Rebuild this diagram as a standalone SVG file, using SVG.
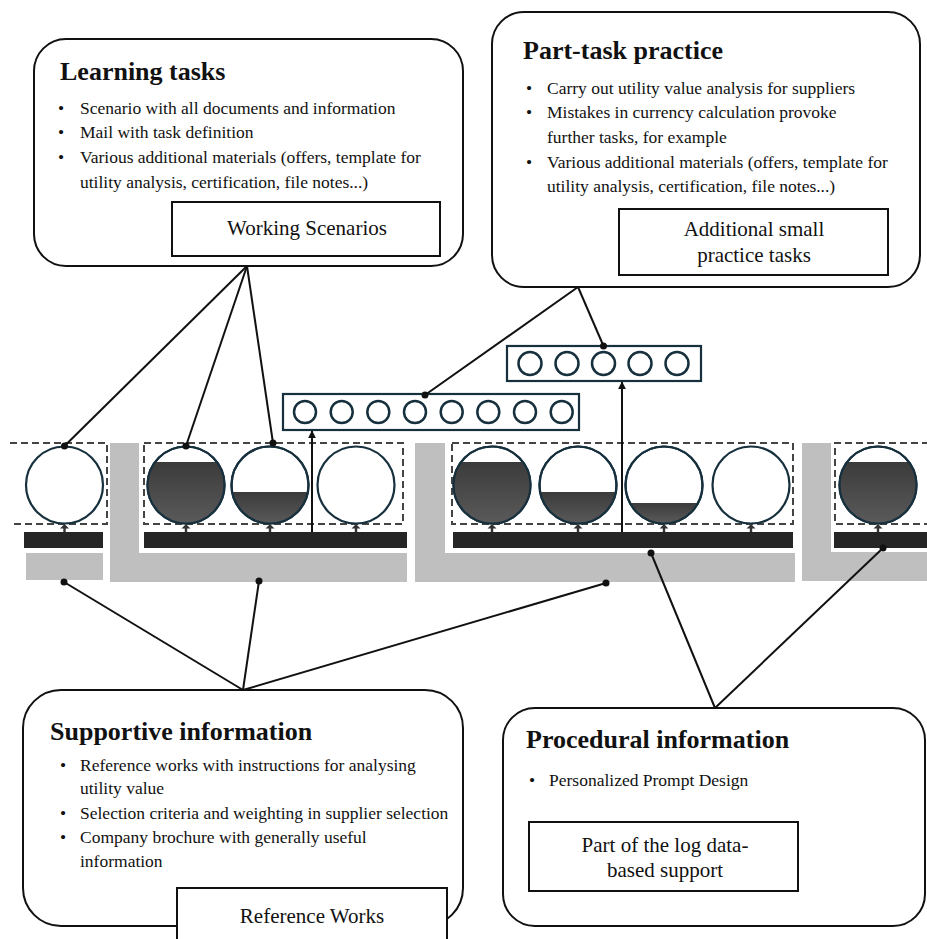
<svg xmlns="http://www.w3.org/2000/svg" width="927" height="939" viewBox="0 0 927 939">
  <style>
    text { font-family: "Liberation Serif", "Times New Roman", serif; fill: #111; }
    .title { font-size: 26px; font-weight: bold; }
    .item { font-size: 17.5px; }
    .label { font-size: 21px; text-anchor: middle; }
    .panel { fill: #fff; stroke: #111; stroke-width: 2; }
    .tag { fill: #fff; stroke: #111; stroke-width: 2; }
    .frame { fill: none; stroke: #444; stroke-width: 2; stroke-dasharray: 7 4; }
    .support { fill: #bfbfbf; }
    .bar { fill: #262626; }
    .ring { fill: #fff; stroke: #17303d; stroke-width: 2.2; }
    .level { fill: url(#shade); }
    .mini { fill: none; stroke: #17303d; stroke-width: 2.5; }
    .tray { fill: #fff; stroke: #17303d; stroke-width: 2.2; }
    .link { stroke: #111; stroke-width: 2; fill: none; }
    .end { fill: #111; }
    .lift { stroke: #111; stroke-width: 2; fill: none; marker-end: url(#tip); }
    .nub { fill: #333; }
  </style>
  <defs>
    <linearGradient id="shade" x1="0" y1="0" x2="0" y2="1">
      <stop offset="0" stop-color="#3b3b3b"/>
      <stop offset="1" stop-color="#5a5a5a"/>
    </linearGradient>
    <marker id="tip" viewBox="0 0 10 10" refX="9" refY="5" markerWidth="4" markerHeight="4" orient="auto" markerUnits="strokeWidth">
      <path d="M0,0 L10,5 L0,10 Z" fill="#111"/>
    </marker>
    <path id="nubShape" d="M0,0 L4.5,4.5 H1.2 V8 H-1.2 V4.5 H-4.5 Z"/>
  </defs>

  <!-- supporting information strips (grey) -->
  <g id="support-strips">
    <rect class="support" x="26" y="553" width="77" height="27"/>
    <path class="support" d="M110,443 H139 V553 H407 V582 H110 Z"/>
    <path class="support" d="M415,443 H445 V553 H795 V582 H415 Z"/>
    <path class="support" d="M802,443 H831 V552 H927 V581 H802 Z"/>
  </g>

  <!-- procedural information bars (dark) -->
  <g id="procedure-bars">
    <rect class="bar" x="24" y="532" width="79" height="16"/>
    <rect class="bar" x="144" y="532" width="263" height="16"/>
    <rect class="bar" x="453" y="532" width="340" height="16"/>
    <rect class="bar" x="834" y="532" width="93" height="16"/>
  </g>

  <!-- task classes (dashed frames) -->
  <g id="task-classes">
    <path class="frame" d="M10,443 H107 V524 H10"/>
    <rect class="frame" x="144" y="443" width="259" height="81"/>
    <rect class="frame" x="452" y="443" width="341" height="81"/>
    <path class="frame" d="M940,443 H835 V524 H940"/>
  </g>

  <!-- learning task circles with support level -->
  <g id="task-circles">
    <circle class="ring" cx="64.5" cy="485" r="38.5"/>

    <circle class="ring" cx="186" cy="485" r="38.5"/>
    <path class="level" d="M155.1,462 H216.9 A38.5,38.5 0 1 1 155.1,462 Z"/>
    <circle class="ring" cx="186" cy="485" r="38.5" style="fill:none"/>

    <circle class="ring" cx="270" cy="485" r="38.5"/>
    <path class="level" d="M232.1,492 H307.9 A38.5,38.5 0 0 1 232.1,492 Z"/>
    <circle class="ring" cx="270" cy="485" r="38.5" style="fill:none"/>

    <circle class="ring" cx="356" cy="485" r="38.5"/>

    <circle class="ring" cx="492" cy="485" r="38.5"/>
    <path class="level" d="M461.1,462 H522.9 A38.5,38.5 0 1 1 461.1,462 Z"/>
    <circle class="ring" cx="492" cy="485" r="38.5" style="fill:none"/>

    <circle class="ring" cx="578" cy="485" r="38.5"/>
    <path class="level" d="M540.1,492 H615.9 A38.5,38.5 0 0 1 540.1,492 Z"/>
    <circle class="ring" cx="578" cy="485" r="38.5" style="fill:none"/>

    <circle class="ring" cx="664" cy="485" r="38.5"/>
    <path class="level" d="M630,503 H698 A38.5,38.5 0 0 1 630,503 Z"/>
    <circle class="ring" cx="664" cy="485" r="38.5" style="fill:none"/>

    <circle class="ring" cx="751" cy="485" r="38.5"/>

    <circle class="ring" cx="878" cy="485" r="38.5"/>
    <path class="level" d="M847.1,462 H908.9 A38.5,38.5 0 1 1 847.1,462 Z"/>
    <circle class="ring" cx="878" cy="485" r="38.5" style="fill:none"/>
  </g>

  <!-- small pointers from bars to circles -->
  <g id="bar-pointers" class="nub">
    <use href="#nubShape" x="64.5" y="524"/>
    <use href="#nubShape" x="186" y="524"/>
    <use href="#nubShape" x="270" y="524"/>
    <use href="#nubShape" x="356" y="524"/>
    <use href="#nubShape" x="492" y="524"/>
    <use href="#nubShape" x="578" y="524"/>
    <use href="#nubShape" x="664" y="524"/>
    <use href="#nubShape" x="751" y="524"/>
    <use href="#nubShape" x="878" y="524"/>
  </g>

  <!-- part-task practice rows -->
  <g id="practice-row-8">
    <rect class="tray" x="283" y="394" width="296" height="36"/>
    <circle class="mini" cx="305" cy="412" r="11"/>
    <circle class="mini" cx="341.7" cy="412" r="11"/>
    <circle class="mini" cx="378.3" cy="412" r="11"/>
    <circle class="mini" cx="415" cy="412" r="11"/>
    <circle class="mini" cx="451.7" cy="412" r="11"/>
    <circle class="mini" cx="488.3" cy="412" r="11"/>
    <circle class="mini" cx="525" cy="412" r="11"/>
    <circle class="mini" cx="561.7" cy="412" r="11"/>
  </g>
  <g id="practice-row-5">
    <rect class="tray" x="507" y="346" width="194" height="35"/>
    <circle class="mini" cx="530" cy="363.5" r="11.5"/>
    <circle class="mini" cx="567" cy="363.5" r="11.5"/>
    <circle class="mini" cx="603.5" cy="363.5" r="11.5"/>
    <circle class="mini" cx="640" cy="363.5" r="11.5"/>
    <circle class="mini" cx="677" cy="363.5" r="11.5"/>
  </g>

  <!-- Learning tasks -->
  <g id="learning-tasks">
    <rect class="panel" x="34" y="39" width="429" height="227" rx="32"/>
    <text class="title" x="60" y="80">Learning tasks</text>
    <text class="item" x="58" y="114">•</text>
    <text class="item" x="80" y="114">Scenario with all documents and information</text>
    <text class="item" x="58" y="138">•</text>
    <text class="item" x="80" y="138">Mail with task definition</text>
    <text class="item" x="58" y="163">•</text>
    <text class="item" x="80" y="163">Various additional materials (offers, template for</text>
    <text class="item" x="80" y="188">utility analysis, certification, file notes...)</text>
    <rect class="tag" x="172" y="202" width="268" height="54"/>
    <text class="label" x="307" y="235">Working Scenarios</text>
  </g>

  <!-- Part-task practice -->
  <g id="part-task-practice">
    <rect class="panel" x="492" y="12" width="428" height="275" rx="32"/>
    <text class="title" x="523" y="59">Part-task practice</text>
    <text class="item" x="526" y="94">•</text>
    <text class="item" x="547" y="94">Carry out utility value analysis for suppliers</text>
    <text class="item" x="526" y="118">•</text>
    <text class="item" x="547" y="118">Mistakes in currency calculation provoke</text>
    <text class="item" x="547" y="143">further tasks, for example</text>
    <text class="item" x="526" y="168">•</text>
    <text class="item" x="547" y="168">Various additional materials (offers, template for</text>
    <text class="item" x="547" y="192">utility analysis, certification, file notes...)</text>
    <rect class="tag" x="619" y="209" width="269" height="66"/>
    <text class="label" x="754" y="236">Additional small</text>
    <text class="label" x="754" y="262">practice tasks</text>
  </g>

  <!-- Supportive information -->
  <g id="supportive-information">
    <rect class="panel" x="23" y="690" width="440" height="236" rx="38"/>
    <text class="title" x="50" y="740">Supportive information</text>
    <text class="item" x="60" y="771">•</text>
    <text class="item" x="80" y="771">Reference works with instructions for analysing</text>
    <text class="item" x="80" y="794">utility value</text>
    <text class="item" x="60" y="819">•</text>
    <text class="item" x="80" y="819">Selection criteria and weighting in supplier selection</text>
    <text class="item" x="60" y="843">•</text>
    <text class="item" x="80" y="843">Company brochure with generally useful</text>
    <text class="item" x="80" y="867">information</text>
    <rect class="tag" x="177" y="888" width="270" height="62"/>
    <text class="label" x="312" y="923">Reference Works</text>
  </g>

  <!-- Procedural information -->
  <g id="procedural-information">
    <rect class="panel" x="503" y="708" width="422" height="218" rx="32"/>
    <text class="title" x="526" y="748">Procedural information</text>
    <text class="item" x="529" y="786">•</text>
    <text class="item" x="549" y="786">Personalized Prompt Design</text>
    <rect class="tag" x="529" y="822" width="269" height="69"/>
    <text class="label" x="665" y="852">Part of the log data-</text>
    <text class="label" x="665" y="877">based support</text>
  </g>

  <!-- connectors -->
  <g id="connectors">
    <line class="link" x1="247" y1="266" x2="64.5" y2="446"/>
    <line class="link" x1="247" y1="266" x2="186" y2="446"/>
    <line class="link" x1="247" y1="266" x2="273" y2="443"/>
    <line class="link" x1="578" y1="287" x2="425" y2="395"/>
    <line class="link" x1="578" y1="287" x2="603.5" y2="346"/>
    <line class="link" x1="243" y1="690" x2="64" y2="582"/>
    <line class="link" x1="243" y1="690" x2="259" y2="581"/>
    <line class="link" x1="243" y1="690" x2="606" y2="583"/>
    <line class="link" x1="715" y1="708" x2="651" y2="553"/>
    <line class="link" x1="715" y1="708" x2="883" y2="548"/>
    <line class="lift" x1="312" y1="532" x2="312" y2="431"/>
    <line class="lift" x1="622" y1="532" x2="622" y2="382"/>
    <circle class="end" cx="64.5" cy="446" r="3.5"/>
    <circle class="end" cx="186" cy="446" r="3.5"/>
    <circle class="end" cx="273" cy="443" r="3.5"/>
    <circle class="end" cx="425" cy="395" r="3.5"/>
    <circle class="end" cx="603.5" cy="346" r="3.5"/>
    <circle class="end" cx="64" cy="582" r="3.5"/>
    <circle class="end" cx="259" cy="581" r="3.5"/>
    <circle class="end" cx="606" cy="583" r="3.5"/>
    <circle class="end" cx="651" cy="553" r="3.5"/>
    <circle class="end" cx="883" cy="548" r="3.5"/>
  </g>
</svg>
